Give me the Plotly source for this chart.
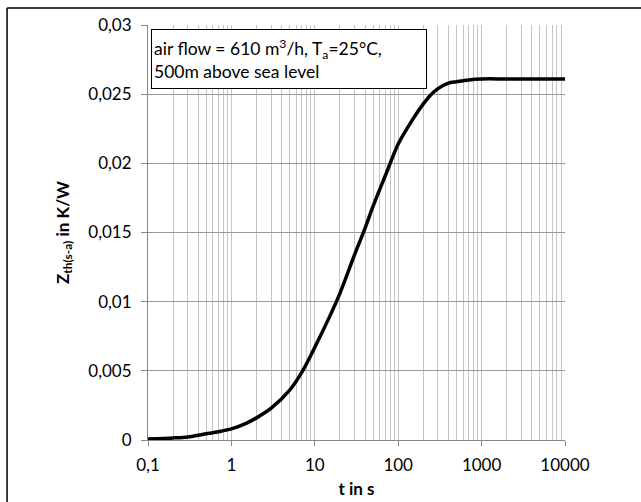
import plotly.graph_objects as go

# Data
t_s = [0.1, 0.2, 0.3, 0.5, 0.7, 1, 1.5, 2, 3, 5, 7, 10, 15, 20, 30, 40, 50, 70,
       100, 150, 200, 250, 300, 400, 500, 700, 1000, 2000, 5000, 10000]
zth = [0.00008, 0.00015, 0.00022, 0.00045, 0.0006, 0.0008, 0.0012, 0.0016, 0.0023,
       0.0036, 0.0049, 0.0067, 0.0089, 0.0106, 0.0134, 0.0153, 0.0169, 0.0191,
       0.0214, 0.0232, 0.0243, 0.0250, 0.0254, 0.0258, 0.0259, 0.02603, 0.0261,
       0.0261, 0.0261, 0.0261]

x_tickvals = [0.1, 1, 10, 100, 1000, 10000]
x_ticktext = ["0,1", "1", "10", "100", "1000", "10000"]
y_tickvals = [0, 0.005, 0.01, 0.015, 0.02, 0.025, 0.03]
y_ticktext = ["0", "0,005", "0,01", "0,015", "0,02", "0,025", "0,03"]

FONT = "Lato"

fig = go.Figure()
fig.add_trace(go.Scatter(
    x=t_s, y=zth, mode="lines",
    line=dict(color="black", width=3.5, shape="spline", smoothing=0.8),
    showlegend=False, hoverinfo="skip",
))

fig.update_layout(
    template="none",
    width=641, height=502,
    margin=dict(l=148, r=76, t=25, b=62, autoexpand=False),
    paper_bgcolor="white", plot_bgcolor="white",
    font=dict(family=FONT, size=17, color="black"),
    xaxis=dict(
        type="log", range=[-1, 4], automargin=False,
        tickmode="array", tickvals=x_tickvals, ticktext=x_ticktext,
        tickfont=dict(family=FONT, size=17),
        showgrid=True, gridcolor="#c4c4c4", gridwidth=1,
        minor=dict(dtick="D1", showgrid=True, gridcolor="#c4c4c4", gridwidth=1, ticks=""),
        showline=True, linecolor="#868686", linewidth=1,
        ticks="outside", ticklen=5, tickcolor="#868686",
        ticklabelstandoff=5,
        zeroline=False,
        title=dict(text="<b>t in s</b>", font=dict(family=FONT, size=17), standoff=8),
    ),
    yaxis=dict(
        range=[0, 0.03], automargin=False,
        tickmode="array", tickvals=y_tickvals, ticktext=y_ticktext,
        tickfont=dict(family=FONT, size=17),
        showgrid=True, gridcolor="#999999", gridwidth=1,
        showline=True, linecolor="#868686", linewidth=1,
        ticks="outside", ticklen=6, tickcolor="#868686",
        ticklabelstandoff=6,
        zeroline=False,
        title=dict(text="<b>Z<sub>th(s-a)</sub> in K/W</b>", font=dict(family=FONT, size=17), standoff=14),
    ),
    annotations=[dict(
        xref="paper", yref="paper", x=0.0072, y=0.990,
        xanchor="left", yanchor="top",
        text="air flow = 610 m<sup>3</sup>/h, T<sub>a</sub>=25°C,<br>500m above sea level",
        showarrow=False, align="left",
        font=dict(family=FONT, size=17.5, color="black"),
        bgcolor="white", bordercolor="black", borderwidth=1, borderpad=2,
        width=270, height=54,
    )],
    shapes=[
        dict(type="line", xref="paper", yref="paper", x0=-0.338, x1=-0.338, y0=-0.3, y1=1.041,
             line=dict(color="black", width=1.5)),
        dict(type="line", xref="paper", yref="paper", x0=-0.338, x1=1.5, y0=1.041, y1=1.041,
             line=dict(color="black", width=1.5)),
    ],
)

fig.write_html("out.html", config={"displayModeBar": False},
               post_script="document.body.style.margin='0';document.body.style.overflow='hidden';")
